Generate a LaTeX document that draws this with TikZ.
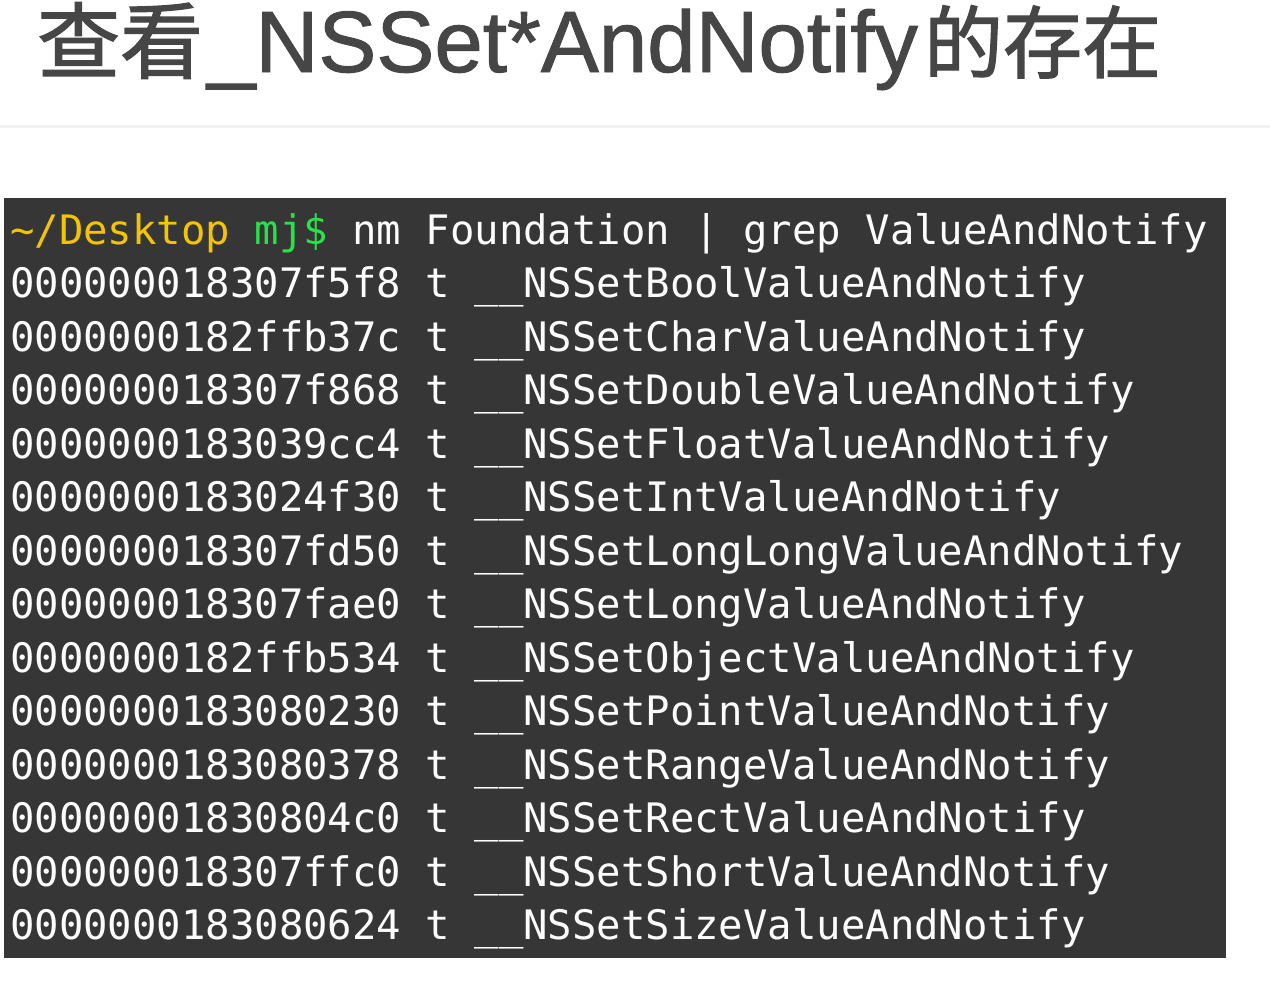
\documentclass[tikz,border=0pt]{standalone}
\usepackage{fontspec}
\setmainfont{Liberation Sans}
\newfontfamily\cjkfont[FakeBold=1.6]{Noto Sans CJK SC}
\newfontfamily\latinfont[FakeBold=1.1]{Liberation Sans}
\newfontfamily\termfont{DejaVu Sans Mono}
\definecolor{titlegray}{RGB}{70,70,70}
\definecolor{rulegray}{RGB}{242,242,242}
\definecolor{termbg}{RGB}{54,54,54}
\definecolor{termfg}{RGB}{252,252,252}
\definecolor{pathyellow}{RGB}{245,196,0}
\definecolor{promptgreen}{RGB}{40,226,74}
\tikzset{
  termline/.style={anchor=base west, inner sep=0pt, text=termfg,
    font=\termfont\fontsize{40.6}{40.6}\selectfont},
  titletext/.style={anchor=base west, inner sep=0pt, text=titlegray}
}
\frenchspacing
\begin{document}
\begin{tikzpicture}[x=1pt,y=-1pt]
\useasboundingbox[fill=white] (0,0) rectangle (1270,986);
% title
\node[titletext] (title) at (37,72) {{\cjkfont\fontsize{83}{83}\selectfont 查看}\kern4pt{\latinfont\fontsize{87}{87}\selectfont \_NSSet*AndNotify}\kern6pt{\cjkfont\fontsize{79}{79}\selectfont 的存在}};
% separator
\fill[rulegray] (0,124.5) rectangle (1270,127.5);
% terminal background
\fill[termbg] (4,198) rectangle (1226,958);
% terminal text
\node[termline] (l0) at (10,244) {{\color{pathyellow}\textasciitilde/Desktop} {\color{promptgreen}mj\$} nm Foundation | grep ValueAndNotify};
\node[termline] (l1) at (10,297.5) {000000018307f5f8 t \_\_NSSetBoolValueAndNotify};
\node[termline] (l2) at (10,351) {0000000182ffb37c t \_\_NSSetCharValueAndNotify};
\node[termline] (l3) at (10,404.5) {000000018307f868 t \_\_NSSetDoubleValueAndNotify};
\node[termline] (l4) at (10,458) {0000000183039cc4 t \_\_NSSetFloatValueAndNotify};
\node[termline] (l5) at (10,511.5) {0000000183024f30 t \_\_NSSetIntValueAndNotify};
\node[termline] (l6) at (10,565) {000000018307fd50 t \_\_NSSetLongLongValueAndNotify};
\node[termline] (l7) at (10,618.5) {000000018307fae0 t \_\_NSSetLongValueAndNotify};
\node[termline] (l8) at (10,672) {0000000182ffb534 t \_\_NSSetObjectValueAndNotify};
\node[termline] (l9) at (10,725.5) {0000000183080230 t \_\_NSSetPointValueAndNotify};
\node[termline] (l10) at (10,779) {0000000183080378 t \_\_NSSetRangeValueAndNotify};
\node[termline] (l11) at (10,832.5) {00000001830804c0 t \_\_NSSetRectValueAndNotify};
\node[termline] (l12) at (10,886) {000000018307ffc0 t \_\_NSSetShortValueAndNotify};
\node[termline] (l13) at (10,939.5) {0000000183080624 t \_\_NSSetSizeValueAndNotify};
\end{tikzpicture}
\end{document}
